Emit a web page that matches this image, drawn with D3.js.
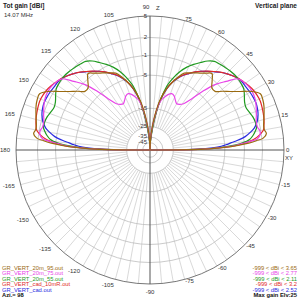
<!DOCTYPE html>
<html><head><meta charset="utf-8">
<script src="https://cdn.jsdelivr.net/npm/d3@7"></script>
<style>
html,body{margin:0;padding:0;background:#fff;}
svg{display:block;font-family:"Liberation Sans",Arial,sans-serif;}
</style></head>
<body>
<svg id="chart" width="300" height="300"></svg>
<script>
// ---- data ----
const elevations = [0,1,2,3,4,5,6,8,10,12,15,18,21,24,27,30,33,36,39,42,45,48,51,54,57,60,63,66,69,72,75,78,81,84,87,90];
const gain20m95 = [-999,-10.3,-5.0,-2.2,-0.2,1.1,2.2,2.75,2.55,2.55,2.8,3.1,3.4,3.6,3.65,2.7,1.2,-0.1,-1.2,-2.3,-2.3,-1.3,-0.3,-0.9,-1.5,-2.0,-2.5,-3.0,-4.3,-6.0,-7.9,-10.8,-15.6,-23.6,-36,-999];
const gain20m75 = [-999,-10.8,-5.3,-2.8,-1.4,0.2,1.3,1.8,1.85,1.6,1.6,1.9,2.2,2.5,2.7,2.77,2.7,2.5,2.1,0.4,-1.3,-4.0,-7.3,-9.6,-10.5,-10.8,-10.0,-9.0,-8.7,-9.3,-10.5,-12.0,-16.5,-25,-37,-999];
const gain20m55 = [-999,-11.3,-6.1,-3.4,-1.8,-0.7,0,0.65,1.1,1.45,1.45,1.3,1.0,0.8,1.0,1.45,1.9,2.05,2.11,2.1,2.0,1.85,1.7,1.55,1.0,0.15,-0.7,-1.7,-3.0,-4.7,-6.9,-11.2,-17.5,-29.5,-43,-999];
const gainCad10mR = [-999,-11.3,-5.7,-2.6,-1.1,0,0.8,1.77,2.4,2.6,2.82,2.97,3.1,3.2,3.15,3.03,2.8,2.5,2.2,1.77,1.3,0.8,0.15,-0.45,-1.1,-1.8,-2.6,-3.4,-4.5,-5.9,-7.95,-11.2,-17.1,-26,-39.5,-999];
const gainCad = [-999,-12.5,-8,-5.8,-4.6,-3.6,-2.5,-0.7,0.3,1.1,1.77,2.17,2.4,2.52,2.5,2.45,2.35,2.3,2.15,1.77,1.3,0.75,0.1,-0.5,-1.15,-1.85,-2.65,-3.45,-4.6,-6.0,-8.1,-11.4,-17.3,-26.3,-40,-999];

const seriesNames = ["GR_VERT_20m_95.out","GR_VERT_20m_75.out","GR_VERT_20m_55.out","GR_VERT_cad_10mR.out","GR_VERT_cad.out"];
const seriesMax = ["3.65","2.77","2.11","3.2","2.52"];
const seriesColors = ["#9a6a10","#e845e8","#1f9a1f","#e02a2a","#2a2ae0"];
const seriesGains = [gain20m95,gain20m75,gain20m55,gainCad10mR,gainCad];

const ringLevels = [5,2,-1,-5,-15,-25,-35,-45];
const angleLabels = [0,15,30,45,60,75,90,105,120,135,150,165,180,-165,-150,-135,-120,-105,-90,-75,-60,-45,-30,-15];

// ---- layout ----
const cx = 150, cy = 150, R = 134;
const svg = d3.select("#chart");

// ARRL log scale: 2 dB per 0.89 radius factor, outer ring = 5 dBi
const rScale = dB => dB <= -80 ? 0 : R * Math.pow(0.89, (5 - dB) / 2);
const ang = d3.scaleLinear().domain([0, 360]).range([0, 2 * Math.PI]);
const px = (deg, r) => cx + r * Math.cos(ang(deg));
const py = (deg, r) => cy - r * Math.sin(ang(deg));

const grid = svg.append("g");
// radial lines every 5 degrees
d3.range(0, 360, 5).forEach(a => {
  if (a % 90 === 0) return;
  const r0 = rScale(-25);
  grid.append("line")
    .attr("x1", px(a, r0)).attr("y1", py(a, r0))
    .attr("x2", px(a, R)).attr("y2", py(a, R))
    .attr("stroke", "#c8c8c8")
    .attr("stroke-width", 0.7);
});
// rings
ringLevels.forEach((lv, i) => {
  grid.append("circle").attr("cx", cx).attr("cy", cy).attr("r", rScale(lv))
    .attr("fill", "none")
    .attr("stroke", i === 0 ? "#777" : "#bdbdbd")
    .attr("stroke-width", i === 0 ? 1 : 0.8);
});
d3.range(0, 360, 90).forEach(a => {
  grid.append("line").attr("x1", cx).attr("y1", cy).attr("x2", px(a, R)).attr("y2", py(a, R))
    .attr("stroke", "#555").attr("stroke-width", 1);
});
// ring labels
ringLevels.forEach(lv => {
  svg.append("text").attr("x", cx - 3).attr("y", cy - rScale(lv) + 1.5)
    .attr("text-anchor", "end").attr("font-size", 6).attr("fill", "#333")
    .text(lv);
});
// angle labels
angleLabels.forEach(a => {
  const c = Math.cos(ang(a));
  let anchor = "middle", rr = 141.5;
  if (c > 0.2) { anchor = "start"; rr = 136; }
  else if (c < -0.2) { anchor = "end"; rr = 140; }
  let x = px(a, rr), y = py(a, rr);
  if (a === 90) { x -= 4; y -= 1.5; }
  svg.append("text").attr("x", x).attr("y", y).attr("dy", "0.35em")
    .attr("text-anchor", anchor).attr("font-size", 6).attr("fill", "#333").text(a);
});
svg.append("text").attr("x", 156).attr("y", 7.5).attr("dy", "0.35em").attr("font-size", 6).attr("fill", "#333").text("Z");
svg.append("text").attr("x", 289).attr("y", 158).attr("dy", "0.35em").attr("font-size", 6)
  .attr("text-anchor", "middle").attr("fill", "#333").text("XY");

// curves
const line = d3.line().x(d => d[0]).y(d => d[1]).curve(d3.curveCatmullRom.alpha(0.5));
const order = [4,3,2,1,0];
order.forEach(si => {
  const g = seriesGains[si];
  const pts = [];
  elevations.forEach((e, i) => { const r = rScale(g[i]); pts.push([px(e, r), py(e, r)]); });
  for (let i = elevations.length - 2; i >= 0; i--) {
    const e = 180 - elevations[i]; const r = rScale(g[i]);
    pts.push([px(e, r), py(e, r)]);
  }
  svg.append("path").attr("d", line(pts)).attr("fill", "none")
    .attr("stroke", seriesColors[si]).attr("stroke-width", 1.2);
});

// titles
svg.append("text").attr("x", 3).attr("y", 8).attr("font-size", 6.5).attr("font-weight", "bold").attr("fill", "#222").text("Tot gain [dBi]");
svg.append("text").attr("x", 4).attr("y", 17).attr("font-size", 6).attr("fill", "#333").text("14.07 MHz");
svg.append("text").attr("x", 297).attr("y", 8).attr("font-size", 6.5).attr("font-weight", "bold").attr("text-anchor", "end").attr("fill", "#222").text("Vertical plane");

// legends
seriesNames.forEach((n, i) => {
  svg.append("text").attr("x", 2).attr("y", 270 + i * 5.4).attr("font-size", 5.8).attr("fill", seriesColors[i]).text(n);
  svg.append("text").attr("x", 297).attr("y", 270 + i * 5.4).attr("font-size", 5.8).attr("text-anchor", "end")
    .attr("fill", seriesColors[i]).text("-999 < dBi < " + seriesMax[i]);
});
svg.append("text").attr("x", 2).attr("y", 297).attr("font-size", 5.8).attr("font-weight", "bold").attr("fill", "#111").text("Azi.= 98");
svg.append("text").attr("x", 297).attr("y", 297).attr("font-size", 5.8).attr("font-weight", "bold").attr("text-anchor", "end").attr("fill", "#111").text("Max gain Elv:25");
</script>
</body></html>
